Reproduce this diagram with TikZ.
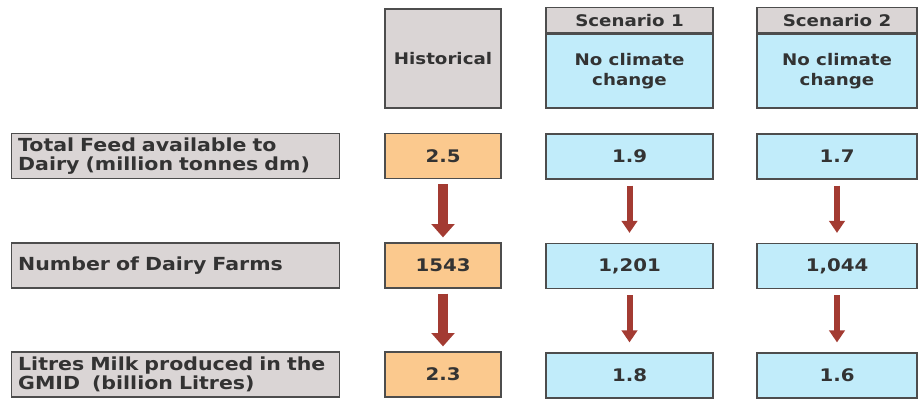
\documentclass[tikz,border=0pt]{standalone}
\usepackage{fontspec}
\usepackage{tikz}
\usetikzlibrary{arrows.meta}
\newfontfamily\boxfont[FakeStretch=1.14]{DejaVu Sans}
\definecolor{boxgray}{HTML}{DAD5D5}
\definecolor{boxcyan}{HTML}{C1ECFA}
\definecolor{boxorange}{HTML}{FBC98E}
\definecolor{boxedge}{HTML}{4D4D4D}
\definecolor{arrowred}{HTML}{A33B32}
\definecolor{inkgray}{HTML}{333333}
\tikzset{
  cell/.style = {draw=boxedge, line width=0.9pt, text=inkgray, inner sep=0pt,
    minimum height=33.75pt,
    font=\boxfont\bfseries\fontsize{13}{14.5}\selectfont},
  headfont/.style = {font=\boxfont\bfseries\fontsize{12}{14.5}\selectfont},
  rowlabel/.style = {cell, fill=boxgray, text width=236pt, align=left,
    inner xsep=5pt, font=\boxfont\bfseries\fontsize{13.5}{14.5}\selectfont},
  histcell/.style = {cell, fill=boxorange, minimum width=87pt},
  scencell/.style = {cell, fill=boxcyan, align=center},
  bigflow/.style = {arrowred, line width=7.5pt,
    -{Triangle[width=17pt,length=10pt]}, shorten <=3.75pt, shorten >=3.75pt},
  flow/.style = {arrowred, line width=4.5pt,
    -{Triangle[width=11.5pt,length=9pt]}, shorten <=4.5pt, shorten >=7.5pt}
}
\begin{document}
\begin{tikzpicture}[x=0.75pt, y=-0.75pt]
\useasboundingbox (0,0) rectangle (918,399);

% column headers
\node[cell, headfont, fill=boxgray, minimum width=87pt, minimum height=74.25pt] (hist) at (443,58.5) {Historical};
\node[scencell, headfont, minimum width=125.25pt, minimum height=55.5pt] (sone) at (629.5,71) {No climate\\change};
\node[cell, headfont, fill=boxgray, minimum width=125.25pt, minimum height=18.75pt, anchor=south] (sonetitle) at (sone.north) {Scenario 1};
\node[scencell, headfont, minimum width=120pt, minimum height=55.5pt] (stwo) at (837,71) {No climate\\change};
\node[cell, headfont, fill=boxgray, minimum width=120pt, minimum height=18.75pt, anchor=south] (stwotitle) at (stwo.north) {Scenario 2};

% row labels
\node[rowlabel] (feed) at (175.5,156) {Total Feed available to\\Dairy (million tonnes dm)};
\node[rowlabel] (farms) at (175.5,265.5) {Number of Dairy Farms};
\node[rowlabel] (milk) at (175.5,374.5) {Litres Milk produced in the\\GMID~ (billion Litres)};

% values
\node[histcell] (hfeed) at (443,156) {2.5};
\node[histcell] (hfarms) at (443,265.5) {1543};
\node[histcell] (hmilk) at (443,374.5) {2.3};

\node[scencell, minimum width=125.25pt] (afeed) at (629.5,156.5) {1.9};
\node[scencell, minimum width=125.25pt] (afarms) at (629.5,266) {1,201};
\node[scencell, minimum width=125.25pt] (amilk) at (629.5,375.5) {1.8};

\node[scencell, minimum width=120pt] (bfeed) at (837,156.5) {1.7};
\node[scencell, minimum width=120pt] (bfarms) at (837,266) {1,044};
\node[scencell, minimum width=120pt] (bmilk) at (837,375.5) {1.6};

% arrows
\draw[bigflow] (hfeed) -- (hfarms);
\draw[bigflow] (hfarms) -- (hmilk);
\draw[flow] (afeed) -- (afarms);
\draw[flow] (afarms) -- (amilk);
\draw[flow] (bfeed) -- (bfarms);
\draw[flow] (bfarms) -- (bmilk);
\end{tikzpicture}
\end{document}
